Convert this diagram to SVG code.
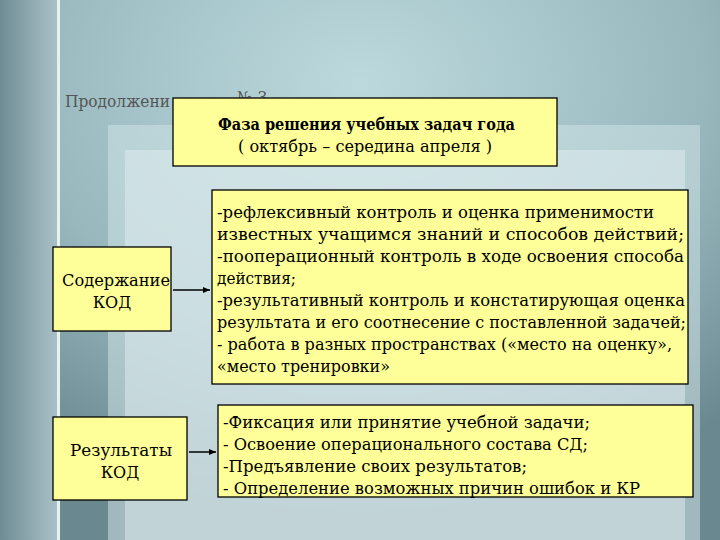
<svg xmlns="http://www.w3.org/2000/svg" width="720" height="540" viewBox="0 0 720 540">
<defs>
<radialGradient id="bg" cx="0.5" cy="0.15" r="0.8"><stop offset="0" stop-color="#bcdadd"/><stop offset="0.6" stop-color="#98b7bd"/><stop offset="1" stop-color="#6a8890"/></radialGradient>
<linearGradient id="band" x1="0" x2="1"><stop offset="0" stop-color="#6f8c94"/><stop offset="1" stop-color="#a9c2c8"/></linearGradient>
<marker id="ar" markerWidth="8" markerHeight="8" refX="7" refY="4" orient="auto" markerUnits="userSpaceOnUse"><path d="M0,1 L7,4 L0,7 z" fill="#000"/></marker>
<style>
.box{fill:#ffff99;stroke:#000;stroke-width:1.3}
.t{font-family:'DejaVu Serif','Liberation Serif',serif;font-size:16px;fill:#000}
.c{text-anchor:middle}
</style>
</defs>
<rect width="720" height="540" fill="url(#bg)"/>
<rect x="0" y="0" width="58" height="540" fill="url(#band)"/>
<rect x="57" y="0" width="3" height="540" fill="#e8f0f0"/>
<rect x="108" y="125" width="592" height="415" fill="#cde2e4" opacity="0.55"/>
<rect x="125" y="150" width="560" height="390" fill="#e2eeef" opacity="0.5"/>
<text class="t" x="65" y="107" style="fill:#555" textLength="105" lengthAdjust="spacingAndGlyphs">Продолжени</text>
<text class="t" x="237" y="103" style="fill:#555">№ 3</text>
<g id="header"><rect class="box" x="173" y="98" width="384" height="68"/>
<text class="t" x="218" y="130" font-weight="bold" textLength="297" lengthAdjust="spacingAndGlyphs">Фаза решения учебных задач года</text>
<text class="t" x="238" y="152" textLength="254" lengthAdjust="spacingAndGlyphs">( октябрь – середина апреля )</text></g>
<g id="content"><rect class="box" x="212" y="190" width="476" height="194"/>
<text class="t" x="217" y="218" textLength="437" lengthAdjust="spacingAndGlyphs">-рефлексивный контроль и оценка применимости</text>
<text class="t" x="217" y="240" textLength="467" lengthAdjust="spacingAndGlyphs">известных учащимся знаний и способов действий;</text>
<text class="t" x="217" y="262" textLength="467" lengthAdjust="spacingAndGlyphs">-пооперационный контроль в ходе освоения способа</text>
<text class="t" x="217" y="284" textLength="79" lengthAdjust="spacingAndGlyphs">действия;</text>
<text class="t" x="217" y="306" textLength="468" lengthAdjust="spacingAndGlyphs">-результативный контроль и констатирующая оценка</text>
<text class="t" x="217" y="328" textLength="469" lengthAdjust="spacingAndGlyphs">результата и его соотнесение с поставленной задачей;</text>
<text class="t" x="217" y="350" textLength="455" lengthAdjust="spacingAndGlyphs">- работа в разных пространствах («место на оценку»,</text>
<text class="t" x="217" y="372" textLength="173" lengthAdjust="spacingAndGlyphs">«место тренировки»</text></g>
<g id="sod"><rect class="box" x="53" y="247" width="118" height="84"/>
<text class="t" x="62" y="286" textLength="108" lengthAdjust="spacingAndGlyphs">Содержание</text><text class="t c" x="112" y="308">КОД</text></g>
<g id="res"><rect class="box" x="53" y="417" width="134" height="83"/>
<text class="t" x="70" y="456" textLength="102" lengthAdjust="spacingAndGlyphs">Результаты</text><text class="t c" x="120" y="478">КОД</text></g>
<g id="results"><rect class="box" x="218" y="405" width="475" height="92"/>
<text class="t" x="223" y="428" textLength="367" lengthAdjust="spacingAndGlyphs">-Фиксация или принятие учебной задачи;</text>
<text class="t" x="223" y="450" textLength="365" lengthAdjust="spacingAndGlyphs">- Освоение операционального состава СД;</text>
<text class="t" x="223" y="472" textLength="304" lengthAdjust="spacingAndGlyphs">-Предъявление своих результатов;</text>
<text class="t" x="223" y="494" textLength="417" lengthAdjust="spacingAndGlyphs">- Определение возможных причин ошибок и КР</text></g>
<g id="connectors" stroke="#000" stroke-width="1.5">
<line x1="173" y1="290" x2="210" y2="290" marker-end="url(#ar)"/>
<line x1="189" y1="452" x2="216" y2="452" marker-end="url(#ar)"/>
</g>
</svg>
